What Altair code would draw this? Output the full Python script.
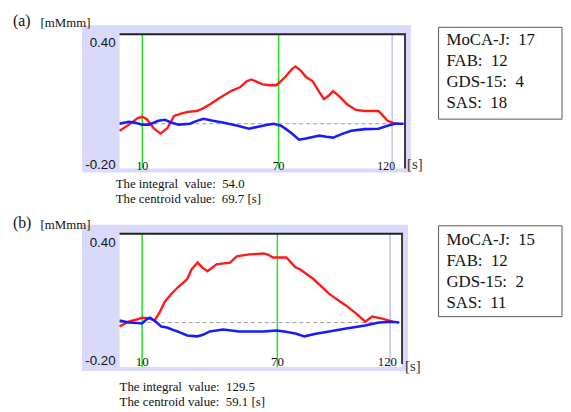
import altair as alt
import pandas as pd

# ---------------- data ----------------
# Panel (a)
a_red_t = [0, 4, 8, 10, 12, 15, 18, 21, 24, 27, 30, 34, 37, 40, 44, 49, 53, 56, 58, 61, 63, 66, 69, 71, 73, 76, 77.5, 80, 82, 85, 88, 90, 92, 94, 97, 100, 104, 108, 114, 116, 118, 121, 123]
a_red_v = [-0.031, -0.005, 0.025, 0.031, 0.02, -0.02, -0.044, -0.02, 0.035, 0.045, 0.053, 0.057, 0.07, 0.088, 0.115, 0.146, 0.163, 0.19, 0.198, 0.185, 0.176, 0.172, 0.172, 0.19, 0.21, 0.245, 0.256, 0.235, 0.21, 0.19, 0.14, 0.11, 0.125, 0.146, 0.12, 0.088, 0.062, 0.057, 0.057, 0.035, 0.013, 0.002, 0.0]
a_blue_t = [0, 4, 7, 10, 13, 17, 20, 23, 26, 31, 34, 37, 41, 46, 52, 57, 61, 65, 68, 71, 73, 76, 79, 82, 86, 88, 91, 94, 98, 102, 108, 114, 118, 121, 125]
a_blue_v = [0.0, 0.009, 0.004, -0.004, -0.004, 0.013, 0.018, 0.004, -0.004, 0.0, 0.013, 0.022, 0.013, 0.004, -0.009, -0.022, -0.013, -0.004, 0.0, -0.009, -0.022, -0.045, -0.071, -0.066, -0.057, -0.053, -0.058, -0.062, -0.045, -0.031, -0.024, -0.022, -0.009, 0.0, 0.0]

# Panel (b)
b_red_t = [0, 4, 8, 10, 13, 15.5, 18, 20, 23, 26, 30, 32, 34.6, 37, 39, 43, 49, 52, 57.5, 64, 66, 68, 74, 78, 80, 86, 93, 100.5, 105, 109, 112, 116.5, 121]
b_red_v = [-0.018, 0.004, 0.015, 0.022, 0.02, 0.009, 0.05, 0.093, 0.13, 0.16, 0.196, 0.24, 0.27, 0.245, 0.231, 0.262, 0.27, 0.298, 0.307, 0.311, 0.305, 0.293, 0.293, 0.249, 0.24, 0.196, 0.129, 0.076, 0.04, 0.004, 0.027, 0.018, 0.004]
b_blue_t = [0, 4, 8, 10, 12, 13.5, 16, 18.5, 21, 24.5, 27, 30, 34.5, 37, 40, 46, 53, 64, 69.5, 73, 78, 82, 87, 93, 100.5, 109, 115, 121, 124]
b_blue_v = [0.009, 0.0, -0.002, -0.004, 0.015, 0.022, 0.005, -0.018, -0.022, -0.036, -0.045, -0.058, -0.062, -0.055, -0.04, -0.031, -0.04, -0.04, -0.036, -0.04, -0.049, -0.062, -0.05, -0.04, -0.027, -0.013, 0.0, 0.004, 0.0]

marker_times = [10, 70]
end_time = [120]
x_tick_labels = ["10", "70"]
x_tick_end = ["120"]
y_ticks = [0.40, -0.20]
y_tick_labels = ["0.40", "-0.20"]

NB = "\u00a0"
scores_a = ["MoCA-J:" + NB + " 17", "FAB:" + NB + " 12", "GDS-15:" + NB + " 4", "SAS:" + NB + " 18"]
scores_b = ["MoCA-J:" + NB + " 15", "FAB:" + NB + " 12", "GDS-15:" + NB + " 2", "SAS:" + NB + " 11"]
notes_a = ["The integral" + NB + " value:" + NB + " 54.0", "The centroid value:" + NB + " 69.7 [s]"]
notes_b = ["The integral" + NB + " value:" + NB + " 129.5", "The centroid value:" + NB + " 59.1 [s]"]

SERIF = "Liberation Serif"
SANS = "Liberation Sans"
LAV = "#d9d9fa"
RED = "#ff1a1a"
BLUE = "#1a1aff"
GREEN = "#22e022"
PALE = "#b4b8f2"

one = pd.DataFrame({"k": [0]})


def panel(label, red_t, red_v, blue_t, blue_v, scores, notes, g):
    xs = alt.Scale(domain=[0, g["tmax"]], range=[g["x0"], g["x1"]], nice=False, zero=False)
    ys = alt.Scale(domain=[-0.2, 0.4], range=[g["yb"], g["yt"]], nice=False, zero=False)
    X = lambda f: alt.X(f, type="quantitative", scale=xs, axis=None)
    Y = lambda f: alt.Y(f, type="quantitative", scale=ys, axis=None)
    L = []
    # lavender frame and white plot area
    L.append(alt.Chart(one).mark_rect(color=LAV).encode(
        x=alt.value(g["lx0"]), x2=alt.value(g["lx1"]), y=alt.value(g["ly0"]), y2=alt.value(g["ly1"])))
    L.append(alt.Chart(one).mark_rect(color="white").encode(
        x=alt.value(g["x0"]), x2=alt.value(g["x1"]), y=alt.value(g["yt"]), y2=alt.value(g["yb"])))
    # zero line
    L.append(alt.Chart(pd.DataFrame({"v": [0.0]})).mark_rule(color="#9a9a9a", strokeDash=[4, 3], strokeWidth=1).encode(
        y=Y("v"), x=alt.value(g["x0"]), x2=alt.value(g["x1"])))
    # markers
    L.append(alt.Chart(pd.DataFrame({"t": marker_times})).mark_rule(color=GREEN, strokeWidth=1.5).encode(
        x=X("t"), y=alt.value(g["yt"]), y2=alt.value(g["yb"])))
    L.append(alt.Chart(pd.DataFrame({"t": end_time})).mark_rule(color=PALE, strokeWidth=1.3).encode(
        x=X("t"), y=alt.value(g["yt"]), y2=alt.value(g["yb"])))
    # series
    L.append(alt.Chart(pd.DataFrame({"t": red_t, "v": red_v})).mark_line(color=RED, strokeWidth=2.4).encode(
        x=X("t"), y=Y("v")))
    L.append(alt.Chart(pd.DataFrame({"t": blue_t, "v": blue_v})).mark_line(color=BLUE, strokeWidth=2.6).encode(
        x=X("t"), y=Y("v")))
    # top & right border
    L.append(alt.Chart(one).mark_rule(color="#222222", strokeWidth=2).encode(
        x=alt.value(g["x0"]), x2=alt.value(g["x1"] + 1), y=alt.value(g["yt"])))
    L.append(alt.Chart(one).mark_rule(color="#3a3a3a", strokeWidth=2).encode(
        x=alt.value(g["x1"]), y=alt.value(g["yt"]), y2=alt.value(g["rb"])))
    # y tick labels
    L.append(alt.Chart(pd.DataFrame({"v": [y_ticks[0]], "s": [y_tick_labels[0]]})).mark_text(
        font=SANS, fontSize=13.5, align="right", baseline="alphabetic", dy=13, color="#111").encode(
        y=Y("v"), x=alt.value(g["x0"] - 4), text="s:N"))
    L.append(alt.Chart(pd.DataFrame({"v": [y_ticks[1]], "s": [y_tick_labels[1]]})).mark_text(
        font=SANS, fontSize=13.5, align="right", baseline="alphabetic", dy=g["dyb"], color="#111").encode(
        y=Y("v"), x=alt.value(g["x0"] - 4), text="s:N"))
    # x tick labels
    L.append(alt.Chart(pd.DataFrame({"t": marker_times, "s": x_tick_labels})).mark_text(
        font=SERIF, fontSize=g["xfs"], align="center", baseline="alphabetic", color="#111").encode(
        x=X("t"), y=alt.value(g["xlb"]), text="s:N"))
    L.append(alt.Chart(pd.DataFrame({"t": end_time, "s": x_tick_end})).mark_text(
        font=SERIF, fontSize=g["xfs"], align="right", baseline="alphabetic", dx=g["dx120"], color="#111").encode(
        x=X("t"), y=alt.value(g["xlb"]), text="s:N"))
    L.append(alt.Chart(one).mark_text(font=SERIF, fontSize=15, align="left", baseline="alphabetic", color="#333").encode(
        x=alt.value(g["sx"]), y=alt.value(g["sy"]), text=alt.value("[s]")))
    # panel label and unit
    L.append(alt.Chart(one).mark_text(font=SERIF, fontSize=16, align="left", baseline="alphabetic", color="#111").encode(
        x=alt.value(5), y=alt.value(g["ply"]), text=alt.value(label)))
    L.append(alt.Chart(one).mark_text(font=SERIF, fontSize=13, align="left", baseline="alphabetic", color="#111").encode(
        x=alt.value(33), y=alt.value(g["ply"] + 1), text=alt.value("[mMmm]")))
    # notes below
    L.append(alt.Chart(pd.DataFrame({"i": [0, 1], "s": notes})).mark_text(
        font=SERIF, fontSize=13, align="left", baseline="alphabetic", color="#111").encode(
        x=alt.value(g["nx"]),
        y=alt.Y("i:Q", scale=alt.Scale(domain=[0, 1], range=[g["ny0"], g["ny1"]], nice=False, zero=False), axis=None),
        text="s:N"))
    # score box
    L.append(alt.Chart(one).mark_rect(fill="white", stroke="#555555", strokeWidth=1).encode(
        x=alt.value(436), x2=alt.value(561), y=alt.value(g["by0"]), y2=alt.value(g["by1"])))
    L.append(alt.Chart(pd.DataFrame({"i": [0, 1, 2, 3], "s": scores})).mark_text(
        font=SERIF, fontSize=17, align="left", baseline="alphabetic", color="#111").encode(
        x=alt.value(444),
        y=alt.Y("i:Q", scale=alt.Scale(domain=[0, 3], range=[g["sy0"], g["sy1"]], nice=False, zero=False), axis=None),
        text="s:N"))
    return L


geo_a = dict(tmax=125.65, x0=113, x1=402, yt=24, yb=160, rb=160,
             lx0=75, lx1=408, ly0=15, ly1=164, dyb=0, xfs=12, xlb=161, dx120=3,
             sx=404, sy=160, ply=16, nx=109, ny0=180, ny1=195,
             by0=17, by1=110, sy0=35, sy1=99)
geo_b = dict(tmax=125.3, x0=113, x1=399, yt=226, yb=361, rb=358,
             lx0=75, lx1=405, ly0=217, ly1=365, dyb=-2, xfs=13, xlb=360, dx120=7,
             sx=402, sy=365, ply=220, nx=113, ny0=385, ny1=400,
             by0=218, by1=310, sy0=237, sy1=301)

layers = panel("(a)", a_red_t, a_red_v, a_blue_t, a_blue_v, scores_a, notes_a, geo_a) + \
         panel("(b)", b_red_t, b_red_v, b_blue_t, b_blue_v, scores_b, notes_b, geo_b)

chart = alt.layer(*layers).properties(
    width=562, height=404, padding=0,
    autosize=alt.AutoSizeParams(type="none"),
).resolve_scale(x="independent", y="independent").configure_view(stroke=None)

chart.save("out.html", embed_options={"renderer": "svg", "actions": False})
